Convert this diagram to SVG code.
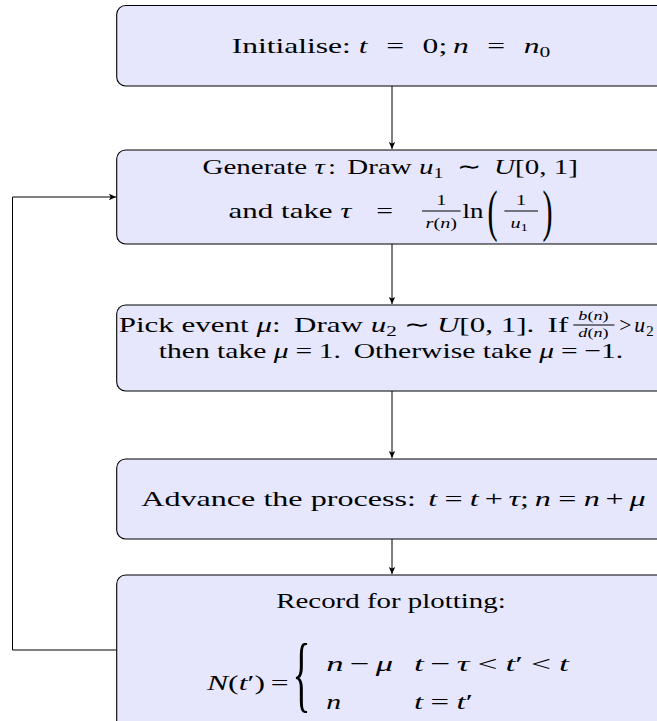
<svg xmlns="http://www.w3.org/2000/svg" width="657" height="721" viewBox="0 0 657 721">
<style>
.box{fill:#E6E6FC;stroke:#000;stroke-width:1.1}
text{font-family:"Liberation Serif","Times New Roman",serif;font-size:22px;fill:#000}
.i{font-style:italic}
.n{font-style:normal}
.sub{font-size:15px}
.sm{font-size:15px}
.xs{font-size:13.5px}
.ss{font-size:11px}
.c{stroke:#000;stroke-width:1;fill:none}
.bar{stroke:#000;stroke-width:1}
</style>
<defs>
<marker id="ah" markerWidth="8" markerHeight="8" refX="7" refY="4" orient="auto" markerUnits="userSpaceOnUse">
<path d="M0,0.8 L7,4 L0,7.2 L1.6,4 z" fill="#000"/>
</marker>
</defs>

<g id="connectors">
<line class="c" x1="392" y1="86" x2="392" y2="149" marker-end="url(#ah)"/>
<line class="c" x1="392" y1="244" x2="392" y2="304" marker-end="url(#ah)"/>
<line class="c" x1="392" y1="391" x2="392" y2="458" marker-end="url(#ah)"/>
<line class="c" x1="392" y1="539" x2="392" y2="574" marker-end="url(#ah)"/>
<path class="c" d="M116.7,650 H12.5 V197 H116" marker-end="url(#ah)"/>
</g>

<g id="init">
<rect class="box" x="116.7" y="5.5" width="560" height="80.5" rx="9"/>
<g transform="translate(391,0) scale(1.35,1)">
<text x="0" y="53" text-anchor="middle" textLength="236" lengthAdjust="spacingAndGlyphs">Initialise: <tspan class="i">t</tspan><tspan dx="13">=</tspan><tspan dx="13">0;</tspan><tspan dx="4" class="i">n</tspan><tspan dx="13">=</tspan><tspan dx="13" class="i">n</tspan><tspan class="sub" dy="4">0</tspan></text>
</g>
</g>

<g id="generate">
<rect class="box" x="116.7" y="150" width="560" height="94" rx="9"/>
<g transform="translate(391,0) scale(1.35,1)">
<text x="-139.6" y="174" textLength="278" lengthAdjust="spacingAndGlyphs">Generate <tspan class="i">τ</tspan><tspan dx="2.5">:</tspan><tspan dx="3"> Draw</tspan> <tspan class="i">u</tspan><tspan class="sub" dy="4">1</tspan><tspan dy="-4" dx="10">∼</tspan><tspan dx="10" class="i">U</tspan>[0, 1]</text>
<text x="-120.3" y="218" textLength="91" lengthAdjust="spacingAndGlyphs">and take <tspan class="i">τ</tspan></text>
<text x="-11" y="218">=</text>
<text class="sm" x="37.3" y="205" text-anchor="middle">1</text>
<line class="bar" x1="23" y1="211" x2="51.6" y2="211"/>
<text class="sm i" x="37.3" y="228" text-anchor="middle">r<tspan class="n">(</tspan>n<tspan class="n">)</tspan></text>
<text x="53" y="218" textLength="15.5" lengthAdjust="spacingAndGlyphs">ln</text>
<text transform="translate(71.5,230) scale(0.4,1)" style="font-size:56px">(</text>
<text class="sm" x="96.3" y="205" text-anchor="middle">1</text>
<line class="bar" x1="84" y1="211" x2="108.9" y2="211"/>
<text class="sm i" x="95" y="228" text-anchor="middle">u<tspan class="ss n" dy="3">1</tspan></text>
<text transform="translate(112.3,230) scale(0.4,1)" style="font-size:56px">)</text>
</g>
</g>

<g id="pick">
<rect class="box" x="116.7" y="305" width="560" height="86" rx="9"/>
<g transform="translate(391,0) scale(1.35,1)">
<text x="-201.7" y="332" textLength="333" lengthAdjust="spacingAndGlyphs">Pick event <tspan class="i">μ</tspan>:<tspan dx="4"> Draw</tspan> <tspan class="i">u</tspan><tspan class="sub" dy="4">2</tspan><tspan dy="-4" dx="5">∼</tspan><tspan dx="5" class="i">U</tspan>[0, 1].<tspan dx="4"> If</tspan></text>
<text class="xs i" x="150" y="320" text-anchor="middle">b<tspan class="n">(</tspan>n<tspan class="n">)</tspan></text>
<line class="bar" x1="135" y1="325" x2="165.5" y2="325"/>
<text class="xs i" x="150" y="337" text-anchor="middle">d<tspan class="n">(</tspan>n<tspan class="n">)</tspan></text>
<text x="169" y="332" textLength="25.5" lengthAdjust="spacingAndGlyphs">&gt;<tspan dx="3" class="i">u</tspan><tspan class="sub" dx="1" dy="4">2</tspan></text>
<text x="0" y="358" text-anchor="middle" textLength="344" lengthAdjust="spacingAndGlyphs">then take <tspan class="i">μ</tspan><tspan dx="5">=</tspan><tspan dx="5">1.</tspan><tspan dx="4"> Otherwise take </tspan><tspan class="i">μ</tspan><tspan dx="5">=</tspan><tspan dx="5">−1.</tspan></text>
</g>
</g>

<g id="advance">
<rect class="box" x="116.7" y="459" width="560" height="80" rx="9"/>
<g transform="translate(391,0) scale(1.35,1)">
<text x="-185" y="506" textLength="373.6" lengthAdjust="spacingAndGlyphs">Advance the process: <tspan dx="3" class="i">t</tspan><tspan dx="5">=</tspan><tspan dx="5" class="i">t</tspan><tspan dx="4">+</tspan><tspan dx="4" class="i">τ</tspan>;<tspan dx="4" class="i">n</tspan><tspan dx="5">=</tspan><tspan dx="5" class="i">n</tspan><tspan dx="4">+</tspan><tspan dx="4" class="i">μ</tspan></text>
</g>
</g>

<g id="record">
<rect class="box" x="116.7" y="575" width="560" height="160" rx="9"/>
<g transform="translate(391,0) scale(1.35,1)">
<text x="0" y="608" text-anchor="middle" textLength="170" lengthAdjust="spacingAndGlyphs">Record for plotting:</text>
<text x="-136.3" y="690" textLength="60.4" lengthAdjust="spacingAndGlyphs"><tspan class="i">N</tspan>(<tspan class="i">t</tspan>′)<tspan dx="4">=</tspan></text>
<text transform="translate(-73,702) scale(0.33,1)" style="font-size:84px">{</text>
<text x="-48" y="671" textLength="49.5" lengthAdjust="spacingAndGlyphs"><tspan class="i">n</tspan><tspan dx="4">−</tspan><tspan dx="4" class="i">μ</tspan></text>
<text x="17" y="671" textLength="114.8" lengthAdjust="spacingAndGlyphs"><tspan class="i">t</tspan><tspan dx="4">−</tspan><tspan dx="4" class="i">τ</tspan><tspan dx="5">&lt;</tspan><tspan dx="5" class="i">t</tspan>′<tspan dx="5">&lt;</tspan><tspan dx="5" class="i">t</tspan></text>
<text x="-48" y="709" class="i">n</text>
<text x="17" y="709" textLength="43.7" lengthAdjust="spacingAndGlyphs"><tspan class="i">t</tspan><tspan dx="5">=</tspan><tspan dx="5" class="i">t</tspan>′</text>
</g>
</g>
</svg>
